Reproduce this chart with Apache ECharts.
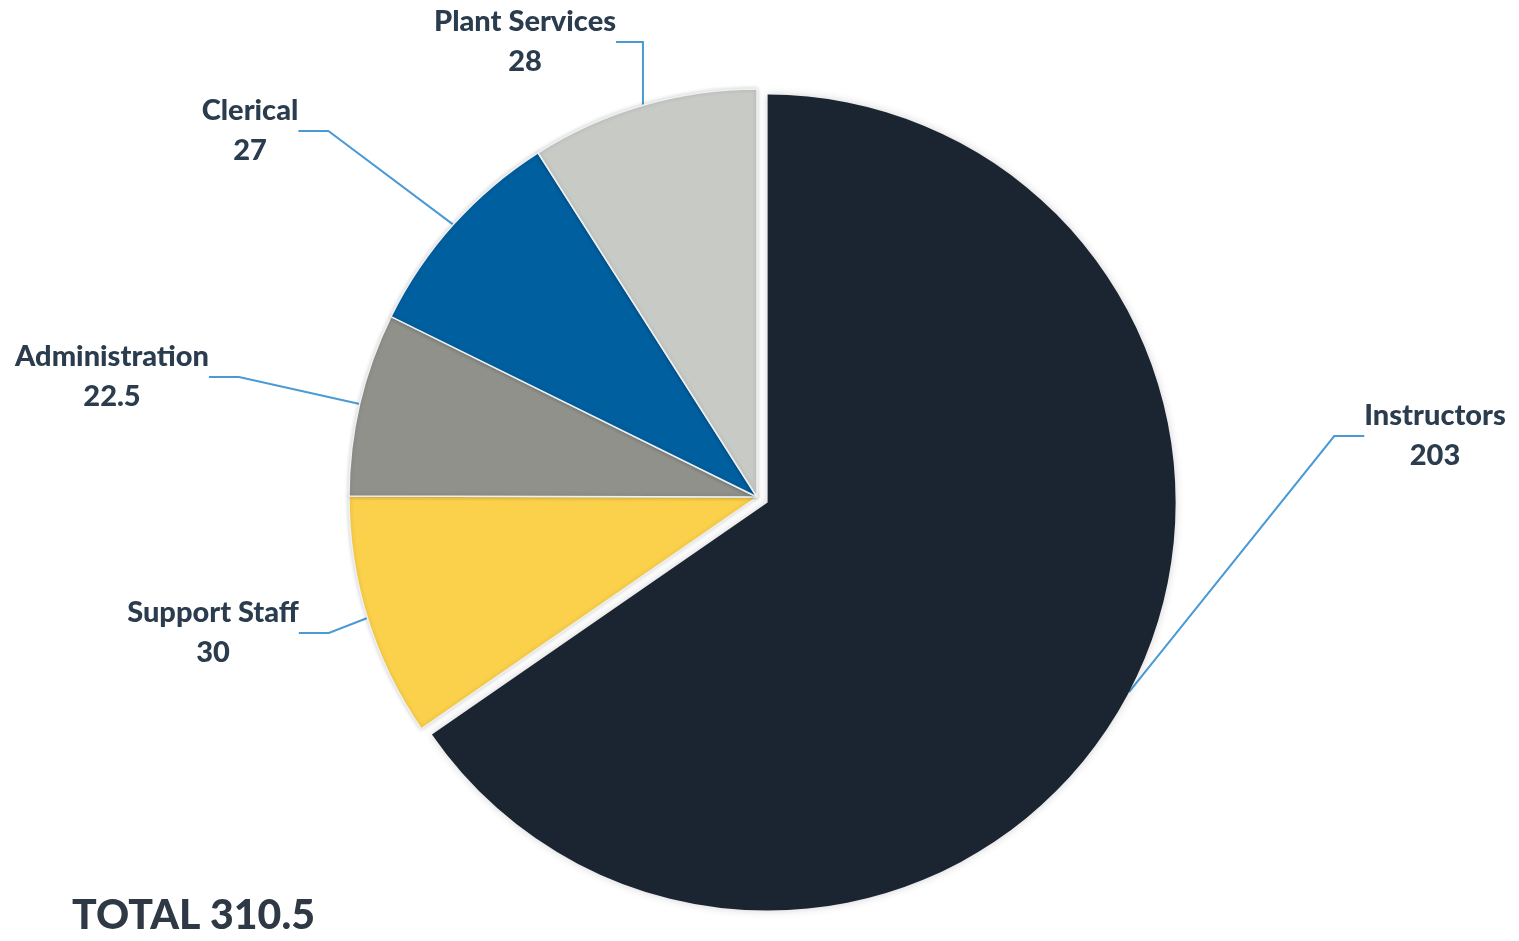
<!DOCTYPE html>
<html>
<head>
<meta charset="utf-8">
<script src="https://cdn.jsdelivr.net/npm/echarts@6/dist/echarts.min.js"></script>
<style>
html,body{margin:0;padding:0;background:#fff;}
#chart{width:1519px;height:941px;}
</style>
</head>
<body>
<div id="chart"></div>
<script>
// ---- data ----
const categories = ['Instructors', 'Support Staff', 'Administration', 'Clerical', 'Plant Services'];
const values = [203, 30, 22.5, 27, 28];
const colors = ['#1b2431', '#fbd04a', '#8f918a', '#005f9f', '#c8cac6'];
const totalLabel = 'TOTAL';
const explodedIndex = 0;

// ---- layout (label anchor positions, not data) ----
const labelPos = [[1435, 436], [213, 633], [112, 377], [250, 131], [525, 42]];
const CX = 757, CY = 497, R = 408, OFFSET = 12;

const total = values.reduce((a, b) => a + b, 0);
// mid angle of exploded slice (clockwise from 12 o'clock)
let before = 0;
for (let i = 0; i < explodedIndex; i++) before += values[i];
const mid = (before + values[explodedIndex] / 2) / total * 2 * Math.PI;
const ox = OFFSET * Math.sin(mid), oy = -OFFSET * Math.cos(mid);

const chart = echarts.init(document.getElementById('chart'));
const FONT = 'Lato';

const labelOpt = {
  show: true,
  position: 'outside',
  formatter: '{b}\n{c}',
  fontFamily: FONT,
  fontWeight: 900,
  fontSize: 29,
  lineHeight: 40,
  color: '#2a3c4d',
  align: 'center'
};
const lineOpt = { show: true, lineStyle: { color: '#4a9ad6', width: 2 } };
const hidden = { show: false };

function makeData(showExploded) {
  return categories.map((c, i) => {
    const visible = (i === explodedIndex) === showExploded;
    return {
      name: c,
      value: values[i],
      itemStyle: visible ? {
        color: colors[i],
        borderColor: '#eef1f4',
        borderWidth: i === explodedIndex ? 0 : 1.5,
        shadowBlur: i === explodedIndex ? 8 : 4,
        shadowColor: 'rgba(0,0,0,0.18)'
      } : { color: 'rgba(0,0,0,0)', borderWidth: 0 },
      label: visible ? {} : hidden,
      labelLine: visible ? {} : hidden
    };
  });
}

const layoutFn = function (p) {
  const pos = labelPos[p.dataIndex];
  return { x: pos[0], y: pos[1], align: 'center', verticalAlign: 'middle' };
};

chart.setOption({
  backgroundColor: '#ffffff',
  animation: false,
  graphic: [{
    type: 'text',
    left: 72,
    top: 895,
    style: {
      text: totalLabel + ' ' + total,
      font: '900 41px ' + FONT,
      fill: '#2e3945'
    }
  }],
  series: [{
    type: 'pie',
    center: [CX, CY],
    radius: R,
    startAngle: 90,
    clockwise: true,
    data: makeData(false),
    label: labelOpt,
    labelLine: lineOpt,
    labelLayout: layoutFn,
    emphasis: { disabled: true },
    silent: true
  }, {
    type: 'pie',
    center: [CX + ox, CY + oy],
    radius: R,
    startAngle: 90,
    clockwise: true,
    data: makeData(true),
    label: labelOpt,
    labelLine: lineOpt,
    labelLayout: layoutFn,
    emphasis: { disabled: true },
    silent: true
  }]
});
</script>
</body>
</html>
